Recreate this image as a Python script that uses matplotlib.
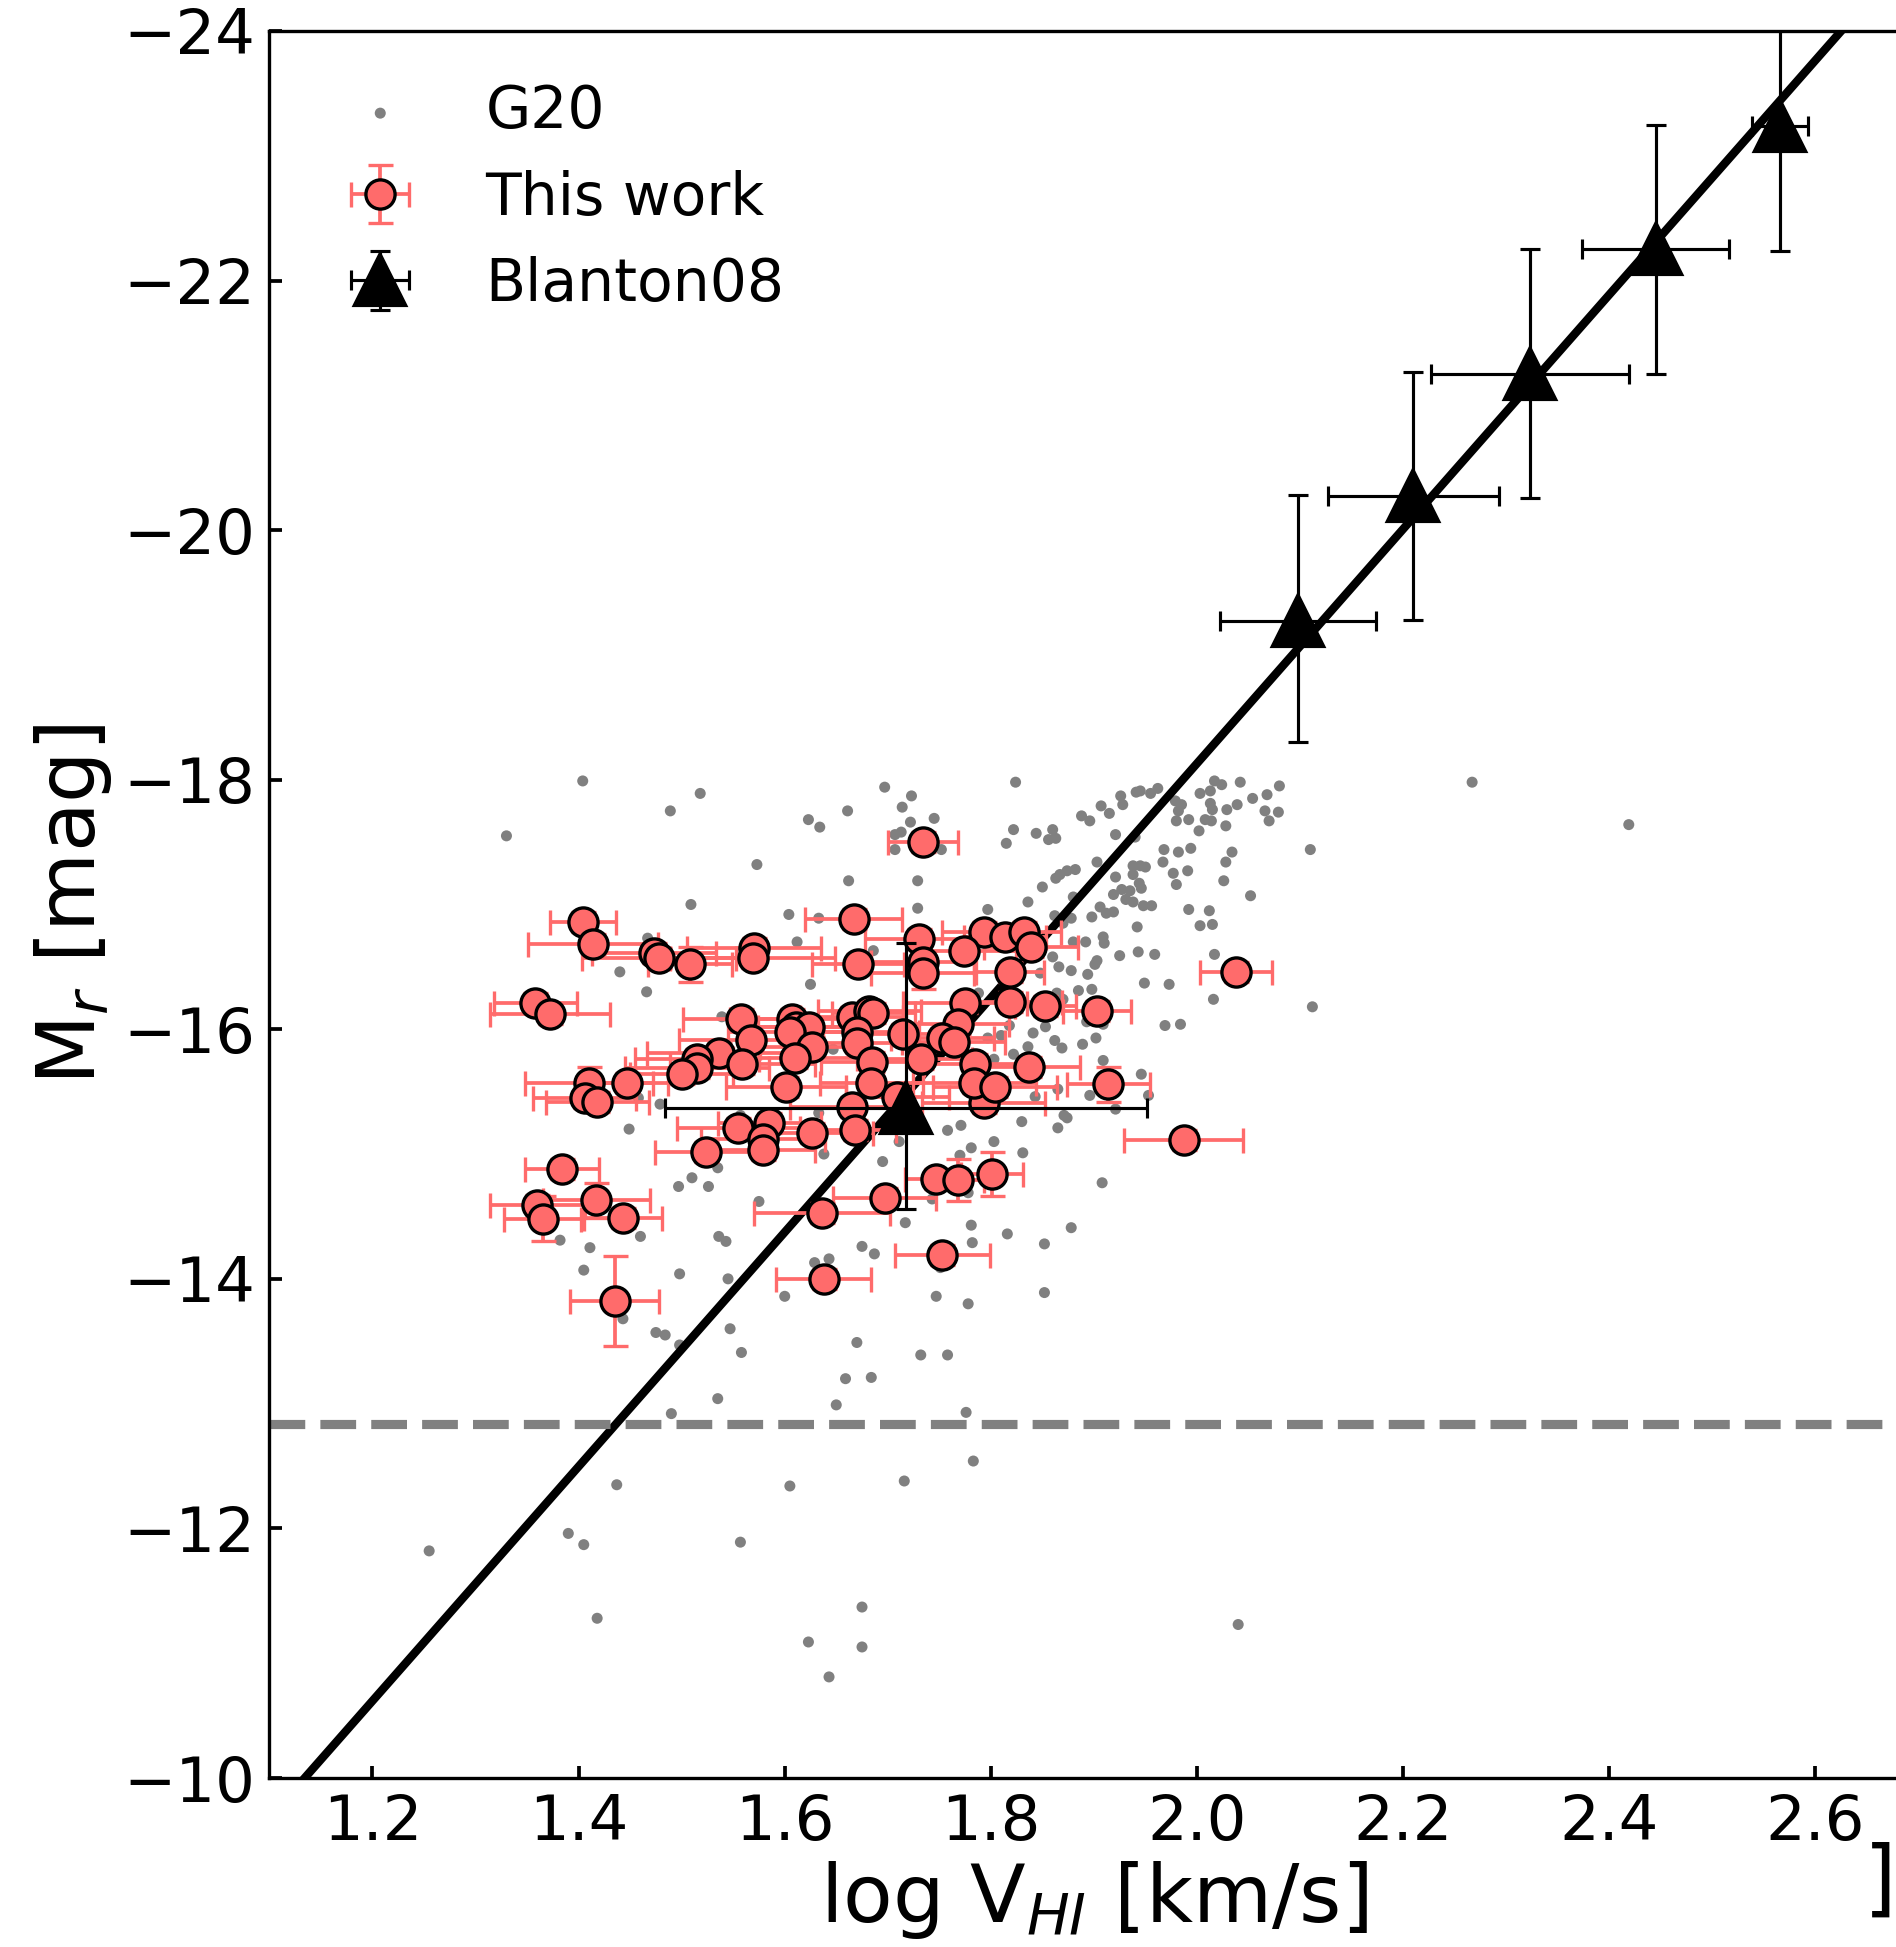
import numpy as np
import matplotlib
matplotlib.use("Agg")
import matplotlib.pyplot as plt

# G20 comparison sample (log V_HI, M_r)
g20_logv = [
    1.697, 1.723, 1.714, 1.722, 1.745, 1.707, 1.713, 1.707, 1.752, 1.729, 1.729, 1.824, 1.822, 1.815,
    1.844, 1.860, 1.856, 1.863, 1.888, 1.896, 1.907, 1.915, 1.926, 1.928, 1.941, 1.945, 1.955, 1.962,
    1.979, 1.985, 1.982, 1.992, 1.980, 2.003, 2.013, 2.017, 2.024, 2.013, 2.015, 2.008, 2.014, 2.029,
    2.028, 2.042, 2.039, 2.054, 2.068, 2.080, 2.066, 2.079, 2.070, 2.110, 2.002, 1.968, 1.982, 1.994,
    1.967, 1.977, 1.980, 1.991, 2.034, 2.028, 2.026, 2.052, 1.992, 2.012, 2.003, 2.015, 2.017, 2.016,
    2.112, 1.921, 1.940, 1.903, 1.882, 1.874, 1.867, 1.863, 1.850, 1.836, 1.797, 1.880, 1.921, 1.938,
    1.945, 1.950, 1.938, 1.944, 1.946, 1.935, 1.927, 1.919, 1.906, 1.931, 1.938, 1.948, 1.956, 1.912,
    1.919, 1.898, 1.942, 1.862, 1.878, 1.870, 1.909, 1.910, 1.892, 1.880, 1.860, 1.866, 1.878, 1.894,
    1.903, 1.901, 1.925, 1.943, 1.959, 1.949, 1.973, 1.885, 1.898, 1.864, 1.870, 1.848, 1.893, 1.909,
    1.902, 1.889, 1.869, 1.862, 1.853, 1.841, 1.818, 1.810, 1.836, 1.822, 1.969, 1.984, 1.909, 1.946,
    1.953, 1.896, 1.865, 1.843, 1.921, 1.803, 1.686, 1.797, 1.788,
    1.330, 1.623, 1.634, 1.573, 1.662, 1.509, 1.604, 1.633, 1.467, 1.612, 1.440, 1.466, 1.625, 1.539,
    1.647, 1.458, 1.479, 1.633, 1.557,
    1.449, 1.535, 1.638, 1.497, 1.510, 1.526, 1.575, 1.382, 1.411, 1.460, 1.536, 1.543, 1.405, 1.498,
    1.545, 1.600, 1.675, 1.687, 1.629, 1.643, 1.443, 1.475, 1.484, 1.498, 1.547, 1.558, 1.670, 1.659,
    1.684, 1.535,
    1.830, 1.771, 1.758, 1.865, 1.871, 1.874, 1.711, 1.781, 1.803, 1.831, 1.770, 1.695, 1.908, 1.778,
    1.743, 1.717, 1.781, 1.816, 1.878, 1.852, 1.782, 1.751, 1.747, 1.778, 1.852, 1.732, 1.758,
    1.404, 1.489, 1.518, 1.661, 1.490, 1.776, 1.437, 1.605, 1.716, 1.783, 1.390, 1.405, 1.255, 1.557,
    1.418, 1.623, 1.643, 1.675, 1.675, 2.040, 2.267, 2.419, 1.650,
]
g20_mr = [
    -17.94, -17.87, -17.78, -17.66, -17.69, -17.56, -17.58, -17.44, -17.44, -17.19, -16.97, -17.98, -17.60, -17.49,
    -17.57, -17.60, -17.52, -17.53, -17.71, -17.67, -17.79, -17.73, -17.87, -17.80, -17.90, -17.91, -17.89, -17.93,
    -17.83, -17.80, -17.75, -17.68, -17.67, -17.89, -17.91, -17.99, -17.96, -17.81, -17.76, -17.68, -17.67, -17.76,
    -17.63, -17.98, -17.80, -17.85, -17.88, -17.95, -17.75, -17.74, -17.67, -17.44, -17.59, -17.44, -17.42, -17.45,
    -17.34, -17.25, -17.16, -17.27, -17.42, -17.34, -17.19, -17.07, -16.96, -16.95, -16.83, -16.84, -16.60, -16.24,
    -16.18, -17.56, -17.54, -17.34, -17.28, -17.27, -17.24, -17.21, -17.14, -17.02, -16.96, -17.06, -17.22, -17.31,
    -17.31, -17.30, -17.24, -17.17, -17.13, -17.11, -17.12, -17.08, -16.98, -17.04, -17.02, -16.99, -16.99, -16.93,
    -16.94, -16.90, -16.82, -16.91, -16.89, -16.85, -16.74, -16.69, -16.70, -16.70, -16.58, -16.50, -16.47, -16.44,
    -16.55, -16.52, -16.59, -16.62, -16.60, -16.37, -16.36, -16.31, -16.32, -16.29, -16.24, -16.45, -16.06, -16.04,
    -15.93, -15.88, -15.85, -15.91, -16.02, -15.97, -16.03, -15.95, -15.86, -15.80, -16.03, -16.04, -15.75, -15.64,
    -15.47, -15.47, -15.52, -15.46, -15.36, -15.76, -16.63, -15.93, -16.29,
    -17.55, -17.68, -17.62, -17.32, -17.19, -17.00, -16.92, -16.89, -16.73, -16.70, -16.46, -16.30, -16.36, -16.10,
    -15.84, -15.45, -15.40, -15.33, -15.31,
    -15.20, -14.89, -15.00, -14.74, -14.81, -14.74, -14.62, -14.31, -14.25, -14.34, -14.34, -14.30, -14.07, -14.04,
    -14.00, -13.86, -14.26, -14.20, -14.13, -14.16, -13.68, -13.57, -13.55, -13.47, -13.60, -13.41, -13.49, -13.20,
    -13.21, -13.04,
    -15.26, -15.23, -15.19, -15.21, -15.31, -15.29, -15.10, -15.05, -15.10, -15.01, -14.99, -14.94, -14.77, -14.69,
    -14.64, -14.45, -14.43, -14.36, -14.41, -14.28, -14.29, -14.09, -13.86, -13.80, -13.89, -13.39, -13.39,
    -17.99, -17.75, -17.89, -17.75, -12.92, -12.93, -12.35, -12.34, -12.38, -12.54, -11.96, -11.87, -11.82, -11.89,
    -11.28, -11.09, -10.81, -11.37, -11.05, -11.23, -17.98, -17.64, -12.99,
]

# this work
tw_logv = [1.734, 1.404, 1.414, 1.473, 1.478, 1.508, 1.570, 1.569, 1.667, 1.671, 1.358, 1.372, 1.558, 1.567,
           1.607, 1.611, 1.624, 1.605, 1.626, 1.610, 1.665, 1.682, 1.686, 1.670, 1.670, 1.685, 1.536, 1.515,
           1.515, 1.500, 1.559, 1.601, 1.447, 1.410, 1.406, 1.418, 1.665, 1.555, 1.585, 1.579, 1.579, 1.524,
           1.626, 1.668, 1.384, 1.360, 1.365, 1.417, 1.443, 1.435, 1.636, 1.638, 1.697, 1.987, 1.747, 1.768,
           1.801, 1.753, 1.793, 2.038, 1.730, 1.734, 1.734, 1.793, 1.814, 1.832, 1.839, 1.774, 1.819, 1.775,
           1.819, 1.853, 1.903, 1.768, 1.753, 1.764, 1.715, 1.732, 1.785, 1.837, 1.784, 1.804, 1.914, 1.684,
           1.709]
tw_mr = [-17.50, -16.86, -16.68, -16.61, -16.57, -16.52, -16.65, -16.57, -16.88, -16.52, -16.21, -16.12, -16.08, -15.91,
         -16.08, -16.02, -16.02, -15.98, -15.86, -15.77, -16.10, -16.15, -16.13, -15.98, -15.89, -15.74, -15.81, -15.76,
         -15.69, -15.64, -15.72, -15.54, -15.57, -15.57, -15.45, -15.42, -15.38, -15.21, -15.25, -15.12, -15.03, -15.02,
         -15.17, -15.19, -14.88, -14.59, -14.48, -14.63, -14.49, -13.82, -14.53, -14.00, -14.65, -15.11, -14.80, -14.79,
         -14.84, -14.19, -15.41, -16.46, -16.72, -16.54, -16.45, -16.78, -16.74, -16.78, -16.66, -16.63, -16.46, -16.21,
         -16.22, -16.19, -16.15, -16.04, -15.93, -15.90, -15.96, -15.76, -15.72, -15.70, -15.57, -15.54, -15.56, -15.57,
         -15.46]
tw_xerr = [0.034, 0.032, 0.063, 0.060, 0.075, 0.041, 0.065, 0.080, 0.047, 0.045, 0.040, 0.058, 0.057, 0.070,
           0.060, 0.050, 0.050, 0.060, 0.050, 0.060, 0.050, 0.050, 0.040, 0.060, 0.050, 0.050, 0.070, 0.060,
           0.070, 0.050, 0.070, 0.058, 0.040, 0.062, 0.050, 0.050, 0.060, 0.060, 0.050, 0.060, 0.050, 0.050,
           0.060, 0.040, 0.036, 0.046, 0.037, 0.052, 0.038, 0.043, 0.066, 0.046, 0.050, 0.058, 0.030, 0.025,
           0.030, 0.046, 0.060, 0.035, 0.052, 0.050, 0.050, 0.040, 0.040, 0.036, 0.046, 0.050, 0.033, 0.060,
           0.050, 0.030, 0.033, 0.050, 0.050, 0.050, 0.050, 0.050, 0.050, 0.050, 0.060, 0.060, 0.040, 0.050,
           0.050]
tw_yerr = [0.08, 0.08, 0.08, 0.08, 0.08, 0.14, 0.08, 0.08, 0.08, 0.08, 0.08, 0.08, 0.08, 0.08,
           0.08, 0.08, 0.08, 0.08, 0.08, 0.08, 0.08, 0.08, 0.08, 0.08, 0.08, 0.08, 0.08, 0.08,
           0.08, 0.08, 0.08, 0.08, 0.08, 0.13, 0.08, 0.08, 0.08, 0.08, 0.08, 0.08, 0.08, 0.08,
           0.08, 0.08, 0.08, 0.08, 0.18, 0.14, 0.08, 0.36, 0.08, 0.08, 0.08, 0.08, 0.08, 0.17,
           0.175, 0.08, 0.08, 0.08, 0.08, 0.08, 0.13, 0.08, 0.08, 0.08, 0.08, 0.08, 0.08, 0.08,
           0.08, 0.08, 0.08, 0.08, 0.08, 0.08, 0.08, 0.08, 0.08, 0.08, 0.08, 0.08, 0.14, 0.08,
           0.08]

# Blanton08 binned relation
bl_logv = [1.718, 2.098, 2.210, 2.323, 2.445, 2.566]
bl_mr = [-15.37, -19.27, -20.27, -21.25, -22.25, -23.24]
bl_xerr = [0.234, 0.076, 0.083, 0.096, 0.071, 0.027]
bl_yerr_lo = [1.32, 1.01, 1.00, 1.00, 1.00, 1.00]
bl_yerr_hi = [0.81, 0.97, 0.99, 0.99, 1.00, 1.00]

# fitted line and magnitude limit
fit_slope = -9.39
fit_icpt = 0.65
mag_limit = -12.84

red = '#ff6b6b'

fig = plt.figure(figsize=(6.32, 6.49), dpi=300)
ax = fig.add_axes([0.1421, 0.0868, 0.8697, 0.8973])

ax.scatter(g20_logv, g20_mr, s=7, color='gray', edgecolors='none', label='G20', zorder=1)

xx = np.array([1.1, 2.7])
ax.plot(xx, fit_icpt + fit_slope * xx, color='k', lw=2.0, zorder=2)
ax.axhline(mag_limit, color='gray', lw=2.2, ls=(0, (3.9, 1.65)), zorder=2)

ax.errorbar(tw_logv, tw_mr, xerr=tw_xerr, yerr=tw_yerr, fmt='o', color=red, ecolor=red,
            mfc=red, mec='k', ms=7, mew=0.8, elinewidth=0.9, capsize=3, capthick=0.9,
            label='This work', zorder=3)
ax.errorbar(bl_logv, bl_mr, xerr=bl_xerr, yerr=[bl_yerr_lo, bl_yerr_hi], fmt='^', color='k',
            ms=12, elinewidth=0.75, capsize=2.5, capthick=0.75, label='Blanton08', zorder=4)

ax.set_xlim(1.1, 2.7)
ax.set_ylim(-10, -24)
ax.set_xticks([1.2, 1.4, 1.6, 1.8, 2.0, 2.2, 2.4, 2.6])
ax.set_yticks([-24, -22, -20, -18, -16, -14, -12, -10])
ax.tick_params(direction='in', length=3, width=0.9, labelsize=15)
for sp in ax.spines.values():
    sp.set_linewidth(0.8)

ax.set_xlabel('log V$_{HI}$ [km/s]', fontsize=19.5, labelpad=1.5)
ax.set_ylabel('M$_r$ [mag]', fontsize=19.5, labelpad=2.2)

ax.legend(loc='upper left', frameon=False, fontsize=14, labelspacing=0.5,
          handletextpad=0.8, bbox_to_anchor=(0.0, 1.0))

# bracket of the neighbouring panel's label, cut off at the edge
fig.text(1.0, 0.0334, ']', fontsize=20, ha='right', va='center')

fig.savefig('out.png', dpi=300)
